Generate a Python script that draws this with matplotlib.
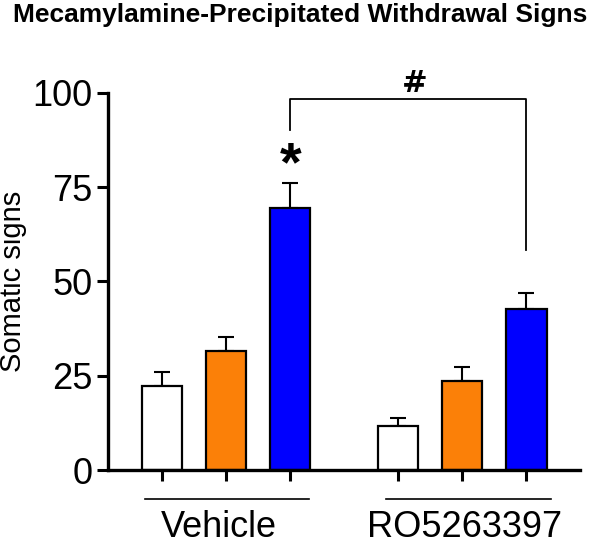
import numpy as np
import matplotlib.pyplot as plt
from matplotlib import transforms

plt.rcParams['font.family'] = ['Liberation Sans', 'DejaVu Sans']

# data
groups = ['Vehicle', 'RO5263397']
means = [22.2, 31.6, 69.5, 11.7, 23.6, 42.6]
sems = [3.8, 3.7, 6.6, 2.2, 3.8, 4.4]
colors = ['white', '#FB8008', '#0000FF', 'white', '#FB8008', '#0000FF']

x = np.array([0, 1, 2, 3.68, 4.68, 5.68])

fig = plt.figure(figsize=(6, 5.44), dpi=100)
ax = fig.add_axes([0.18, 0.136, 0.787, 0.6936])

ax.bar(x, means, width=0.63, color=colors, edgecolor='black', linewidth=1.6, zorder=2)
ax.errorbar(x, means, yerr=[np.zeros(len(sems)), sems], fmt='none', ecolor='black',
            elinewidth=1.5, capsize=6, capthick=1.5, zorder=1)

ax.set_ylim(0, 100)
ax.set_xlim(-0.84, 6.52)
ax.set_yticks([0, 25, 50, 75, 100])
ax.set_xticks(x)
ax.set_xticklabels([])
ax.tick_params(axis='both', direction='out', length=8, width=2.2, labelsize=26, pad=3)
for side in ['top', 'right']:
    ax.spines[side].set_visible(False)
for side in ['left', 'bottom']:
    ax.spines[side].set_linewidth(2.4)
ax.set_ylabel('Somatic signs', fontsize=21, labelpad=4)

# group lines and labels under the axis
trans = transforms.blended_transform_factory(ax.transData, ax.transAxes)
line_centers = [x[:3].mean() + 0.02, x[3:].mean() + 0.1]
label_centers = [x[1] - 0.11, x[4] + 0.03]
for c, lc, name in zip(line_centers, label_centers, groups):
    ax.plot([c - 1.28, c + 1.28], [-0.077, -0.077], color='black', lw=1.2,
            transform=trans, clip_on=False)
    ax.text(lc, -0.152, name, ha='center', va='center', fontsize=26, transform=trans)

# significance marks
ax.plot([x[2], x[2], x[5], x[5]], [90, 98.4, 98.4, 58.4], color='black', lw=1.3,
        clip_on=False)
ax.text(x[2], 80.5, '*', ha='center', va='center', fontsize=40, fontweight='bold')
ax.text((x[2] + x[5]) / 2 + 0.1, 102.5, '#', ha='center', va='center', fontsize=22,
        fontweight='bold', family='DejaVu Sans', clip_on=False)

fig.suptitle('Mecamylamine-Precipitated Withdrawal Signs', x=0.5, y=0.995,
             fontsize=19, fontweight='bold')

fig.savefig('out.png', dpi=100)
